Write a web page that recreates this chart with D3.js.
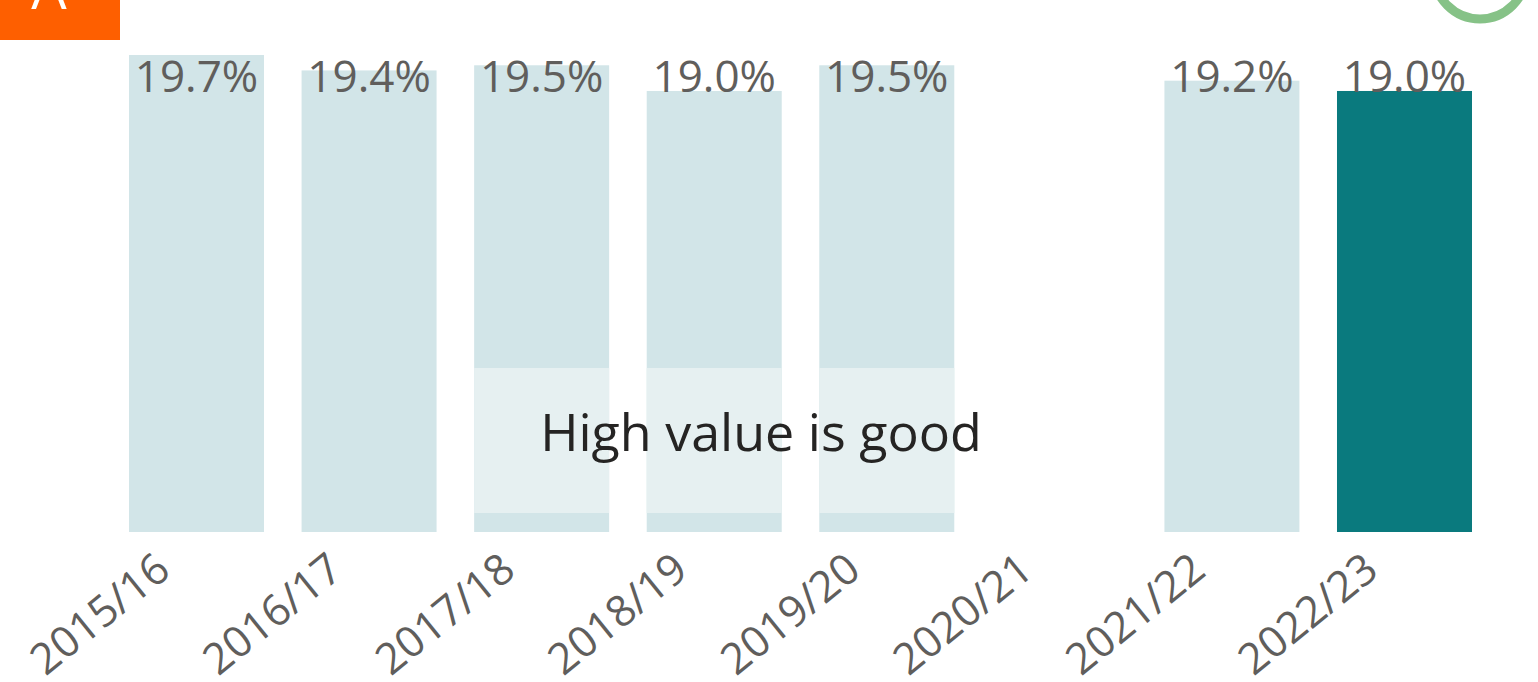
<!DOCTYPE html>
<meta charset="UTF-8">
<style>
body { margin: 0; background: #fff; }
svg { display: block; }
.val { font: 44px "Open Sans", sans-serif; fill: #605e5c; text-anchor: middle; }
.tick text { font: 43px "Open Sans", sans-serif; fill: #605e5c; }
.note { font: 52px "Open Sans", sans-serif; fill: #252423; text-anchor: middle; }
</style>
<body>
<script src="https://d3js.org/d3.v7.min.js"></script>
<script>

// chart data
var years = ["2015/16", "2016/17", "2017/18", "2018/19", "2019/20", "2020/21", "2021/22", "2022/23"];
var values = [19.7, 19.4, 19.5, 19.0, 19.5, null, 19.2, 19.0];
var labels = ["19.7%", "19.4%", "19.5%", "19.0%", "19.5%", "", "19.2%", "19.0%"];
var noteYears = ["2017/18", "2018/19", "2019/20"];
var noteText = "High value is good";

var width = 1538, height = 682;

var svg = d3.select("body").append("svg")
    .attr("width", width)
    .attr("height", height);

// header bits, cut off at the top of the picture
svg.append("rect").attr("x", 0).attr("y", 0).attr("width", 120).attr("height", 40).attr("fill", "#fe5f00");
svg.append("text").attr("x", 49).attr("y", 9)
    .attr("text-anchor", "middle")
    .style("font", "56px 'Open Sans', sans-serif")
    .attr("fill", "#fff")
    .text("A");
svg.append("circle").attr("cx", 1480).attr("cy", -27).attr("r", 46)
    .attr("fill", "none").attr("stroke", "#86c287").attr("stroke-width", 9);

var x = d3.scaleBand()
    .domain(years)
    .range([129, 1472])
    .paddingInner(0.2177)
    .paddingOuter(0);

var y = d3.scaleLinear()
    .domain([10.42, 19.7])
    .range([532, 55]);

var data = years.map(function(d, i) { return {year: d, value: values[i], label: labels[i]}; });
var last = years[years.length - 1];

// bars
svg.selectAll("rect.bar")
    .data(data.filter(function(d) { return d.value != null; }))
  .enter().append("rect")
    .attr("class", "bar")
    .attr("x", function(d) { return x(d.year); })
    .attr("y", function(d) { return y(d.value); })
    .attr("width", x.bandwidth())
    .attr("height", function(d) { return y.range()[0] - y(d.value); })
    .attr("fill", function(d) { return d.year === last ? "#0a7a7e" : "#d2e5e8"; });

// lighter band behind the note
svg.selectAll("rect.band")
    .data(noteYears)
  .enter().append("rect")
    .attr("class", "band")
    .attr("x", function(d) { return x(d); })
    .attr("y", 368)
    .attr("width", x.bandwidth())
    .attr("height", 145)
    .attr("fill", "#e6f0f1");

svg.append("text")
    .attr("class", "note")
    .attr("x", 761)
    .attr("y", 451)
    .text(noteText);

// value labels, all on one line
svg.selectAll("text.val")
    .data(data)
  .enter().append("text")
    .attr("class", "val")
    .attr("x", function(d) { return x(d.year) + x.bandwidth() / 2; })
    .attr("y", 92)
    .text(function(d) { return d.label; });

// x axis
var xAxis = svg.append("g")
    .attr("transform", "translate(0,532)")
    .call(d3.axisBottom(x).tickSize(0).tickPadding(0));
xAxis.select(".domain").remove();
xAxis.selectAll(".tick text")
    .attr("text-anchor", "end")
    .attr("dy", null)
    .attr("y", null)
    .attr("transform", "translate(-24,42) rotate(-39)");

</script>
</body>
